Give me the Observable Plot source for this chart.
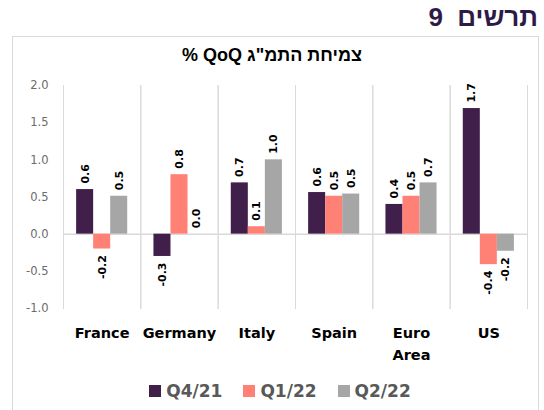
<!DOCTYPE html>
<html>
<head>
<meta charset="utf-8">
<script src="https://cdn.jsdelivr.net/npm/d3@7"></script>
<script src="https://cdn.jsdelivr.net/npm/@observablehq/plot@0.6"></script>
<style>
  html, body { margin: 0; padding: 0; background: #fff; }
  #wrap { position: relative; width: 544px; height: 410px; overflow: hidden; font-family: "Liberation Sans", Arial, sans-serif; }
  #outerTitle { position: absolute; right: 6px; top: 2px; font-size: 26px; font-weight: bold; color: #2e1a47; direction: rtl; white-space: pre; }
  #box { position: absolute; left: 12px; top: 36px; width: 527px; height: 390px; border: 1px solid #d9d9d9; box-sizing: border-box; }
  #innerTitle { position: absolute; left: 0; width: 544px; top: 45px; text-align: center; font-size: 18px; font-weight: bold; color: #000; direction: rtl; }
  #chart { position: absolute; left: 0; top: 0; }
  #legend { position: absolute; left: 8px; width: 544px; top: 381px; display: flex; justify-content: center; gap: 21px; font-family: "DejaVu Sans", sans-serif; font-weight: bold; font-size: 17px; color: #595959; }
  #legend .item { display: flex; align-items: center; gap: 5px; }
  #legend .sw { width: 12px; height: 12px; display: inline-block; }
</style>
</head>
<body>
<div id="wrap">
  <div id="box"></div>
  <div id="outerTitle">תרשים  9</div>
  <div id="innerTitle">צמיחת התמ"ג QoQ %</div>
  <div id="chart"></div>
  <div id="legend"></div>
</div>
<script>
// Data
const countries = ["France", "Germany", "Italy", "Spain", "Euro Area", "US"];
const countryLabels = ["France", "Germany", "Italy", "Spain", "Euro\nArea", "US"];
const series = ["Q4/21", "Q1/22", "Q2/22"];
const q4_21 = [0.60, -0.30, 0.69, 0.56, 0.40, 1.69];
const q1_22 = [-0.20, 0.80, 0.10, 0.51, 0.51, -0.41];
const q2_22 = [0.51, 0.00, 1.00, 0.54, 0.69, -0.23];
const colors = ["#40204a", "#ff8075", "#a6a6a6"];
const yTicks = [-1.0, -0.5, 0.0, 0.5, 1.0, 1.5, 2.0];

const seriesValues = [q4_21, q1_22, q2_22];
const rows = [];
countries.forEach((c, i) => {
  series.forEach((s, j) => {
    rows.push({country: c, label: countryLabels[i], series: s, value: seriesValues[j][i]});
  });
});

const chart = Plot.plot({
  width: 544,
  height: 410,
  marginLeft: 63,
  marginRight: 17,
  marginTop: 85,
  marginBottom: 102,
  style: {fontFamily: "DejaVu Sans, sans-serif", fontSize: "11.5px", color: "#6b6b6b", background: "transparent"},
  facet: {data: rows, x: "country"},
  fx: {domain: countries, padding: 0, round: false, axis: null, label: null},
  x: {domain: series, paddingInner: 0, paddingOuter: 0.77, round: false, axis: null},
  y: {domain: [-1, 2], ticks: yTicks, tickFormat: d => d.toFixed(1), tickSize: 0, tickPadding: 15, label: null},
  color: {domain: series, range: colors},
  marks: [
    Plot.frame({anchor: "left", stroke: "#d9d9d9"}),
    Plot.frame({anchor: "right", stroke: "#d9d9d9"}),
    Plot.ruleY([0], {stroke: "#d9d9d9", strokeWidth: 1.5}),
    Plot.barY(rows, {x: "series", y: "value", fill: "series"}),
    Plot.text(rows, {filter: d => d.value >= 0, x: "series", y: "value", text: d => d.value.toFixed(1),
      rotate: -90, textAnchor: "start", dy: -6, fill: "#000", fontWeight: "bold", fontSize: 11}),
    Plot.text(rows, {filter: d => d.value < 0, x: "series", y: "value", text: d => d.value.toFixed(1),
      rotate: -90, textAnchor: "end", dy: 6, fill: "#000", fontWeight: "bold", fontSize: 11}),
    Plot.text(rows, {filter: d => d.series === series[0], text: "label", frameAnchor: "bottom",
      lineAnchor: "top", dy: 14, lineHeight: 1.5, fill: "#000", fontWeight: "bold", fontSize: 14.5})
  ]
});
document.getElementById("chart").appendChild(chart);

const legend = document.getElementById("legend");
series.forEach((s, j) => {
  const item = document.createElement("div");
  item.className = "item";
  const sw = document.createElement("span");
  sw.className = "sw";
  sw.style.background = colors[j];
  const t = document.createElement("span");
  t.textContent = s;
  item.appendChild(sw);
  item.appendChild(t);
  legend.appendChild(item);
});
</script>
</body>
</html>
